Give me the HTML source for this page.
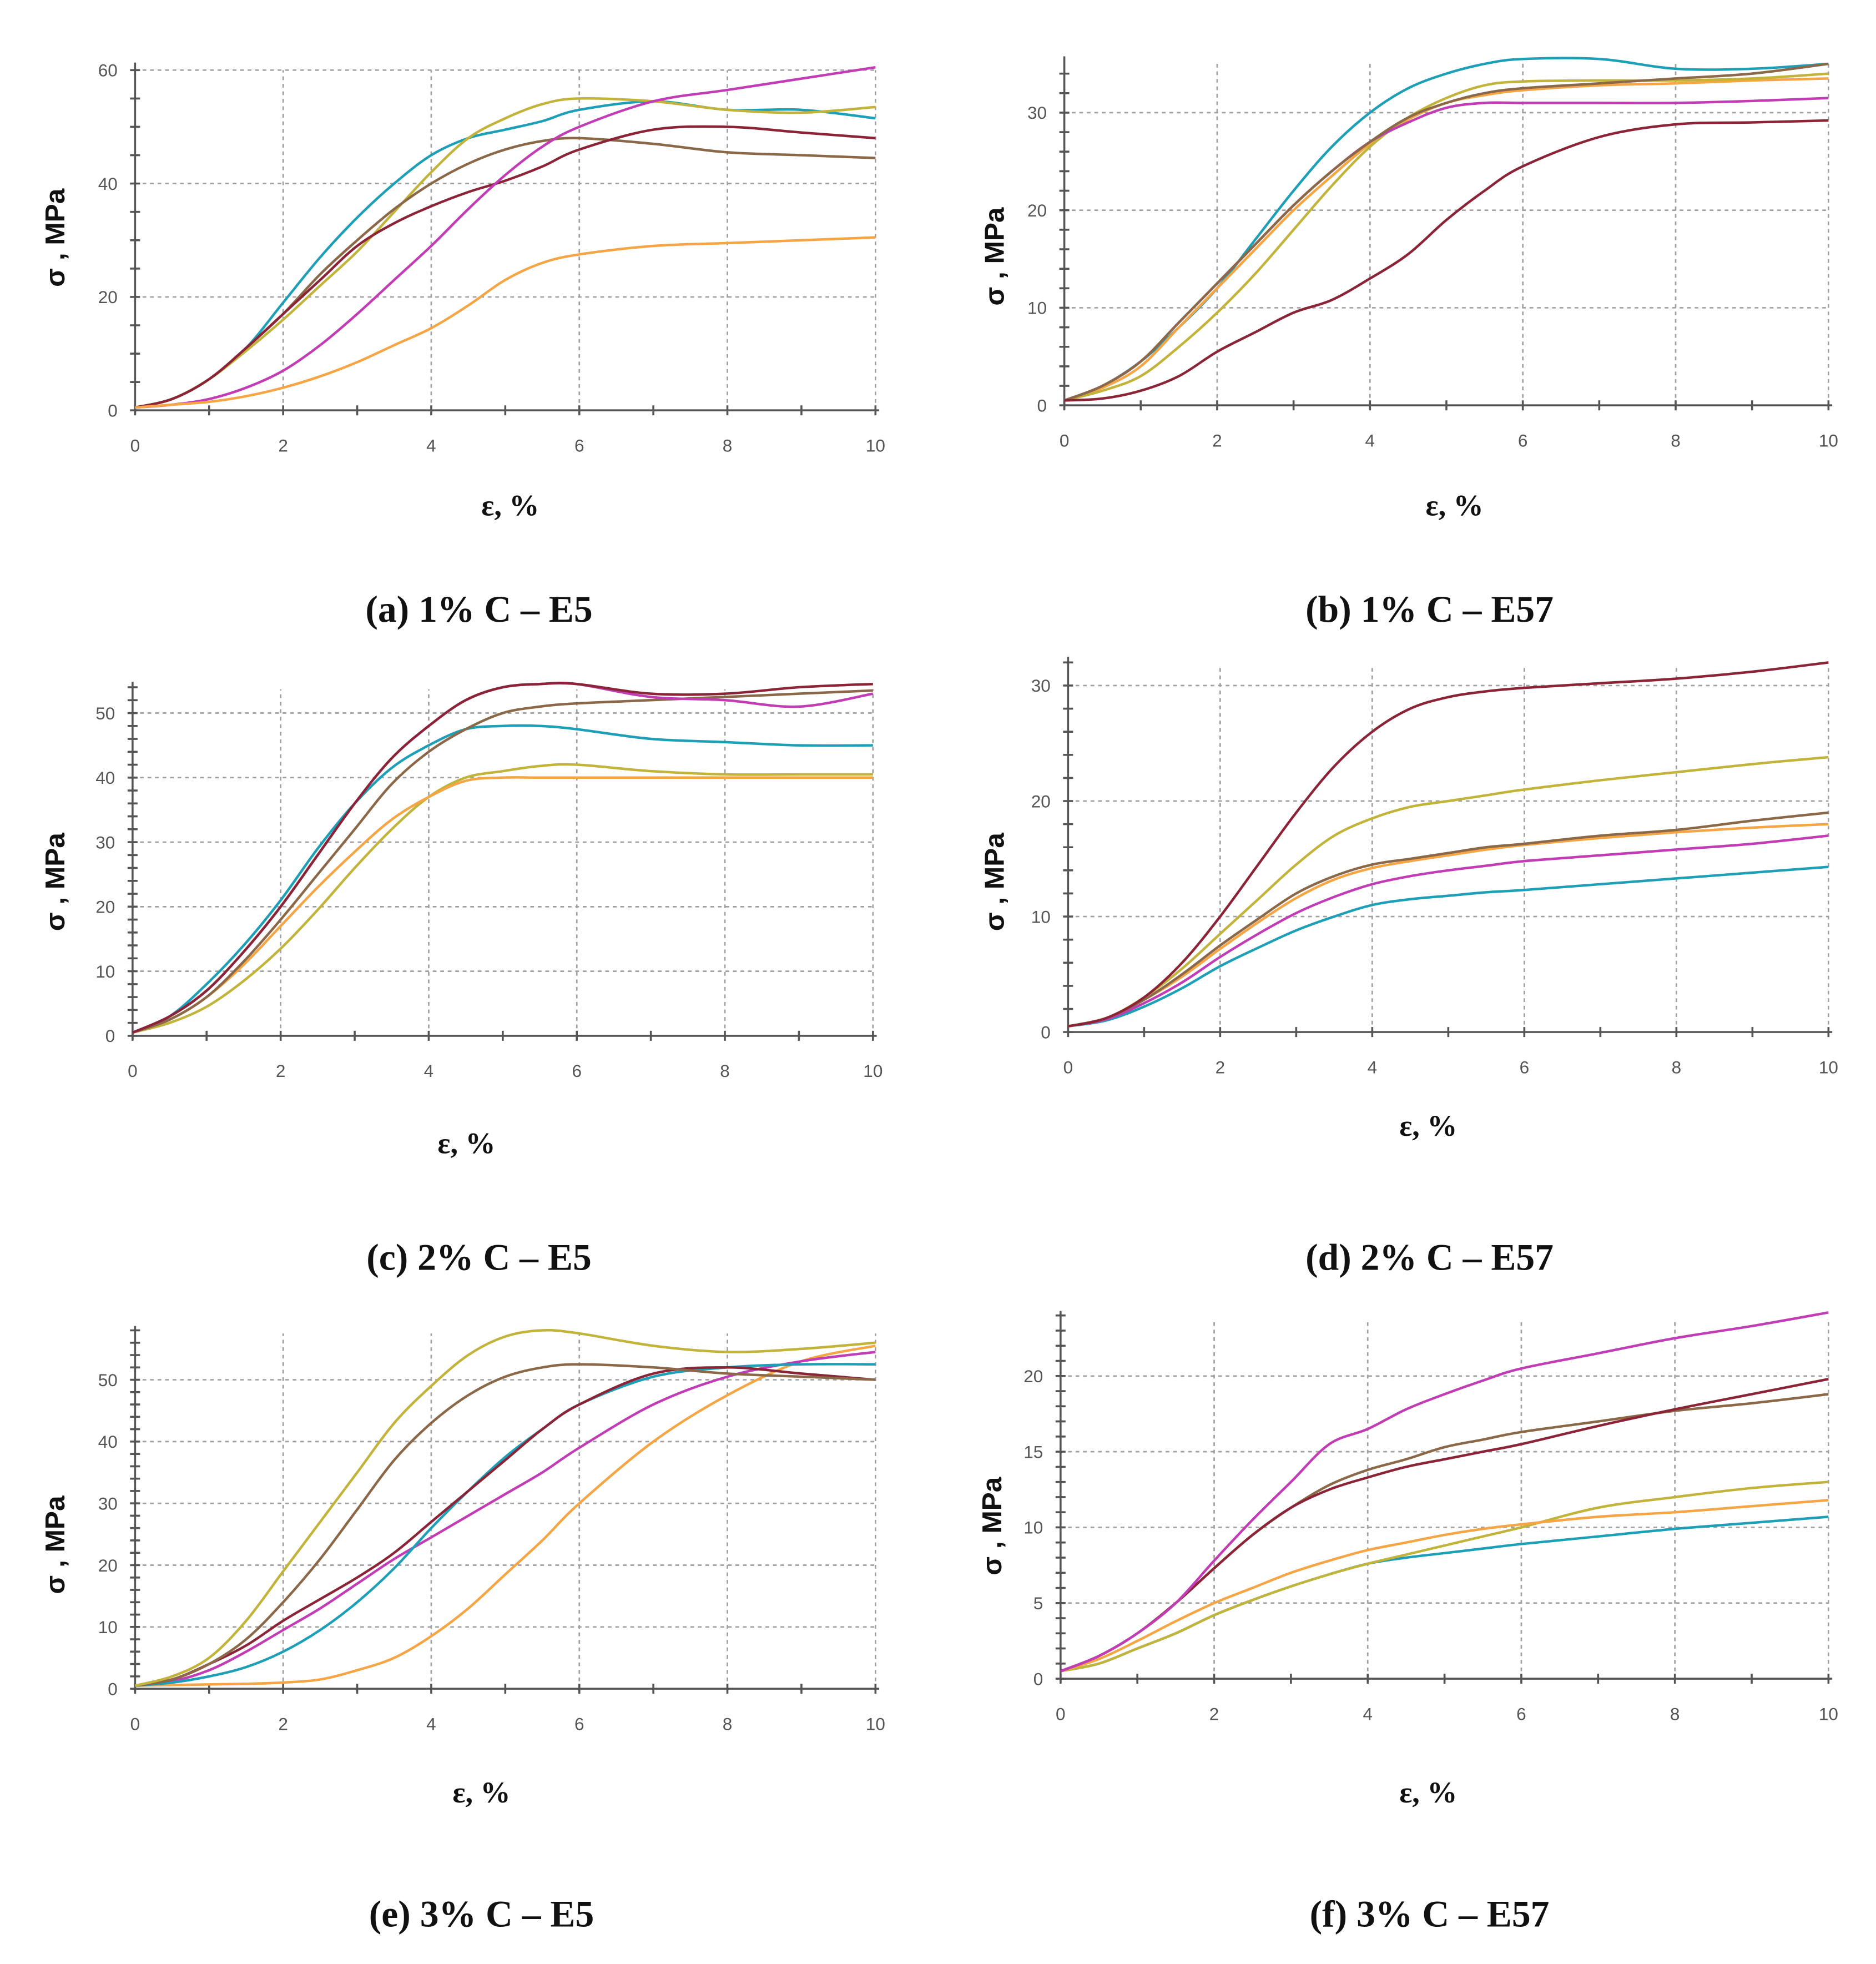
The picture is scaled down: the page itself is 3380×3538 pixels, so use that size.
<!DOCTYPE html>
<html><head><meta charset="utf-8"><style>
html,body{margin:0;padding:0;background:#fff}
svg{display:block}
</style></head><body>
<svg id="fig" xmlns="http://www.w3.org/2000/svg" width="3380" height="3538" viewBox="0 0 1500 1570"></svg>
<script>
const xs = [0,0.5,1,1.5,2,2.5,3,3.5,4,4.5,5,5.5,6,7,8,9,10];
const xTicks = [0,2,4,6,8,10];
const colors = {teal:"#1e9fb8", olive:"#c2b33a", brown:"#8a6848", maroon:"#8c2438", magenta:"#c23db5", orange:"#f6a545"};

// panel a
const aTitle = "(a) 1% C – E5";
const aYTicks = [0,20,40,60];
const aTeal    = [0.5,2,5.5,11,19,27,34,40,45,48,49.5,51,53,54.5,53,53,51.5];
const aOlive   = [0.5,2,5.5,10.5,16,22,28,35,42,48,51.5,54,55,54.5,53,52.5,53.5];
const aBrown   = [0.5,2,5.5,11,17,24,30,35.5,40,43.5,46,47.5,48,47,45.5,45,44.5];
const aMaroon  = [0.5,2,5.5,11,17,23,29,33,36,38.5,40.5,43,46,49.5,50,49,48];
const aMagenta = [0.5,1,2,4,7,11.5,17,23,29,35.5,41.5,46.5,50,54.5,56.5,58.5,60.5];
const aOrange  = [0.5,1,1.5,2.5,4,6,8.5,11.5,14.5,18.5,23,26,27.5,29,29.5,30,30.5];

// panel b
const bTitle = "(b) 1% C – E57";
const bYTicks = [0,10,20,30];
const bTeal    = [0.5,2,4.5,8,12,17,22,26.5,30,32.5,34,35,35.5,35.5,34.5,34.5,35];
const bMaroon  = [0.5,2,4.5,8.5,12.5,16.5,20.5,24,27,29.5,31,32,32.5,33,33.5,34,35];
const bOrange  = [0.5,1.8,4,8,12,16,20,23.5,26.8,29.3,31,31.8,32.3,32.8,33,33.3,33.5];
const bOlive   = [0.5,1.5,3,6,9.5,13.5,18,22.5,26.5,29.5,31.5,32.8,33.2,33.3,33.3,33.5,34];
const bMagenta = [0.5,2,4.5,8.5,12.5,16.5,20.5,24,27,29,30.5,31,31,31,31,31.2,31.5];
const bLow     = [0.5,0.7,1.5,3,5.5,7.5,9.5,10.8,13,15.5,19,22,24.5,27.5,28.8,29,29.2];

// panel c
const cTitle = "(c) 2% C – E5";
const cYTicks = [0,10,20,30,40,50];
const cMaroon  = [0.5,3,7,13,20,28,36,43,48,52,54,54.5,54.5,53,53,54,54.5];
const cMagenta = [0.5,3,7,13,20,28,36,43,48,52,54,54.5,54.5,52.5,52,51,53];
const cTeal    = [0.5,3,8,14,21,29,36,41.5,45,47.5,48,48,47.5,46,45.5,45,45];
const cBrown   = [0.5,2.5,6,11.5,18,25,32,39,44,47.5,50,51,51.5,52,52.5,53,53.5];
const cOlive   = [0.5,2,4.5,8.5,13.5,19.5,26,32,37,40,41,41.8,42,41,40.5,40.5,40.5];
const cOrange  = [0.5,2.5,6,11,17,23,28.5,33.5,37,39.5,40,40,40,40,40,40,40];

// panel d
const dTitle = "(d) 2% C – E57";
const dYTicks = [0,10,20,30];
const dMaroon  = [0.5,1.2,3,6,10,14.5,19,23,26,28,29,29.5,29.8,30.2,30.6,31.2,32];
const dOlive   = [0.5,1.2,3,5.5,8.5,11.5,14.5,17,18.5,19.5,20,20.5,21,21.8,22.5,23.2,23.8];
const dBrown   = [0.5,1.2,2.8,5,7.5,9.8,12,13.5,14.5,15,15.5,16,16.3,17,17.5,18.3,19];
const dOrange  = [0.5,1.2,2.8,4.8,7.2,9.5,11.6,13.2,14.2,14.8,15.3,15.8,16.2,16.8,17.3,17.7,18];
const dMagenta = [0.5,1.1,2.5,4.3,6.5,8.5,10.3,11.7,12.8,13.5,14,14.4,14.8,15.3,15.8,16.3,17];
const dTeal    = [0.5,1,2.2,3.8,5.7,7.3,8.8,10,11,11.5,11.8,12.1,12.3,12.8,13.3,13.8,14.3];

// panel e
const eTitle = "(e) 3% C – E5";
const eYTicks = [0,10,20,30,40,50];
const eOlive   = [0.5,2,5,11,19,27,35,43,49,54,57,58,57.5,55.5,54.5,55,56];
const eBrown   = [0.5,1.5,4,8,14,21,29,37,43,47.5,50.5,52,52.5,52,51,50.5,50];
const eMaroon  = [0.5,1.5,4,7,11,14.5,18,22,27,32,37,42,46,51,52,51,50];
const eTeal    = [0.5,1,2,3.5,6,9.5,14,19.5,26,32,37.5,42,46,50.5,52,52.5,52.5];
const eMagenta = [0.5,1.2,3,6,9.5,13,17,21,24.5,28,31.5,35,39,46,50.5,53,54.5];
const eOrange  = [0.5,0.6,0.7,0.8,1,1.5,3,5,8.5,13,18.5,24,30,40,47.5,53,55.5];

// panel f
const fTitle = "(f) 3% C – E57";
const fYTicks = [0,5,10,15,20];
const fMagenta = [0.5,1.5,3,5,7.8,10.5,13,15.5,16.5,17.8,18.8,19.7,20.5,21.5,22.5,23.3,24.2];
const fMaroon  = [0.5,1.5,3,5,7.3,9.5,11.3,12.5,13.3,14,14.5,15,15.5,16.7,17.8,18.8,19.8];
const fBrown   = [0.5,1.5,3,5,7.3,9.5,11.3,12.8,13.8,14.5,15.3,15.8,16.3,17,17.7,18.2,18.8];
const fOrange  = [0.5,1.3,2.5,3.8,5,6,7,7.8,8.5,9,9.5,9.9,10.2,10.7,11,11.4,11.8];
const fOlive   = [0.5,1,2,3,4.2,5.2,6.1,6.9,7.6,8.2,8.8,9.4,10,11.3,12,12.6,13];
const fTeal    = [0.5,1,2,3,4.2,5.2,6.1,6.9,7.6,8,8.3,8.6,8.9,9.4,9.9,10.3,10.7];

const panels = [
 {id:"a", title:aTitle, yTicks:aYTicks, x0:108,x1:700,y0:328,yTop:56,yMaxTick:60,axisTop:50,minor:5,
  tx:383,ty:497,ex:408,ey:412,sx:44,sy:190,
  series:[["teal",aTeal],["olive",aOlive],["brown",aBrown],["maroon",aMaroon],["magenta",aMagenta],["orange",aOrange]]},
 {id:"b", title:bTitle, yTicks:bYTicks, x0:851,x1:1462,y0:324,yTop:90,yMaxTick:30,axisTop:45,minor:2,
  tx:1143,ty:497,ex:1163,ey:412,sx:795,sy:205,
  series:[["teal",bTeal],["orange",bOrange],["olive",bOlive],["magenta",bMagenta],["brown",bMaroon],["maroon",bLow]]},
 {id:"c", title:cTitle, yTicks:cYTicks, x0:106,x1:698,y0:828,yTop:570,yMaxTick:50,axisTop:545,minor:2,
  tx:383,ty:1015,ex:373,ey:922,sx:44,sy:705,
  series:[["teal",cTeal],["olive",cOlive],["orange",cOrange],["brown",cBrown],["magenta",cMagenta],["maroon",cMaroon]]},
 {id:"d", title:dTitle, yTicks:dYTicks, x0:854,x1:1462,y0:825,yTop:548,yMaxTick:30,axisTop:525,minor:2,
  tx:1143,ty:1015,ex:1142,ey:908,sx:795,sy:705,
  series:[["teal",dTeal],["magenta",dMagenta],["orange",dOrange],["brown",dBrown],["olive",dOlive],["maroon",dMaroon]]},
 {id:"e", title:eTitle, yTicks:eYTicks, x0:108,x1:700,y0:1350,yTop:1103,yMaxTick:50,axisTop:1060,minor:2,
  tx:385,ty:1540,ex:385,ey:1441,sx:44,sy:1235,
  series:[["orange",eOrange],["magenta",eMagenta],["teal",eTeal],["maroon",eMaroon],["brown",eBrown],["olive",eOlive]]},
 {id:"f", title:fTitle, yTicks:fYTicks, x0:848,x1:1462,y0:1342,yTop:1100,yMaxTick:20,axisTop:1048,minor:1,
  tx:1143,ty:1540,ex:1142,ey:1441,sx:793,sy:1220,
  series:[["teal",fTeal],["olive",fOlive],["orange",fOrange],["brown",fBrown],["maroon",fMaroon],["magenta",fMagenta]]}
];

const NS = "http://www.w3.org/2000/svg";
const svg = document.getElementById("fig");
function mk(tag, attrs, parent){
  const e = document.createElementNS(NS, tag);
  for (const k in attrs) e.setAttribute(k, attrs[k]);
  parent.appendChild(e);
  return e;
}
function smoothPath(pts){
  let d = "M" + pts[0][0].toFixed(2) + "," + pts[0][1].toFixed(2);
  for (let i=0;i<pts.length-1;i++){
    const p0 = pts[Math.max(i-1,0)], p1 = pts[i], p2 = pts[i+1], p3 = pts[Math.min(i+2,pts.length-1)];
    const c1x = p1[0]+(p2[0]-p0[0])/6, c1y = p1[1]+(p2[1]-p0[1])/6;
    const c2x = p2[0]-(p3[0]-p1[0])/6, c2y = p2[1]-(p3[1]-p1[1])/6;
    d += " C"+c1x.toFixed(2)+","+c1y.toFixed(2)+" "+c2x.toFixed(2)+","+c2y.toFixed(2)+" "+p2[0].toFixed(2)+","+p2[1].toFixed(2);
  }
  return d;
}

panels.forEach(p => {
  const g = mk("g", {}, svg);
  
  
  const sx = v => p.x0 + (p.x1 - p.x0) * v / 10;
  const sy = v => p.y0 - (p.y0 - p.yTop) * v / p.yMaxTick;
  const yMaxVal = (p.y0 - p.axisTop) / (p.y0 - p.yTop) * p.yMaxTick;

  // grid
  const grid = mk("g", {stroke:"#a0a0a0","stroke-width":1.2,"stroke-dasharray":"3,3",fill:"none"}, g);
  
  
  xTicks.forEach(t => { if (t>0) mk("line",{x1:sx(t),x2:sx(t),y1:p.y0,y2:p.axisTop+6},grid); });
  p.yTicks.forEach(t => { if (t>0) mk("line",{x1:p.x0,x2:p.x1,y1:sy(t),y2:sy(t)},grid); });

  // axes
  const ax = mk("g", {stroke:"#555","stroke-width":1.6,fill:"none"}, g);
  
  
  mk("line",{x1:p.x0,x2:p.x1+3,y1:p.y0,y2:p.y0},ax);
  mk("line",{x1:p.x0,x2:p.x0,y1:p.y0+3,y2:p.axisTop},ax);
  for (let t=0;t<=10;t++) mk("line",{x1:sx(t),x2:sx(t),y1:p.y0-4,y2:p.y0+4},ax);
  for (let v=0; v<=yMaxVal+0.001; v+=p.minor) mk("line",{x1:p.x0-4,x2:p.x0+4,y1:sy(v),y2:sy(v)},ax);

  // tick labels
  xTicks.forEach(t => {
    const tl = mk("text",{x:sx(t),y:p.y0+33,"text-anchor":"middle","font-family":"Liberation Sans, sans-serif","font-size":14,fill:"#555"},g);
    tl.textContent = t;
    
    
  });
  p.yTicks.forEach(t => {
    const tl = mk("text",{x:p.x0-14,y:sy(t)+5,"text-anchor":"end","font-family":"Liberation Sans, sans-serif","font-size":14,fill:"#555"},g);
    tl.textContent = t;
    
    
  });

  // series
  p.series.forEach(([c, vals]) => {
    const pts = xs.map((x,i) => [sx(x), sy(vals[i])]);
    const path = mk("path",{d:smoothPath(pts),stroke:colors[c],"stroke-width":2,fill:"none","stroke-linejoin":"round"},g);
    
    
  });

  // axis labels
  const yl = mk("text",{x:p.sx,y:p.sy,transform:"rotate(-90 "+p.sx+" "+p.sy+")","text-anchor":"middle","dominant-baseline":"central","font-family":"Liberation Sans, sans-serif","font-size":22,"font-weight":"bold",fill:"#111"},g);
  yl.textContent = "σ , MPa";
  
  
  const xl = mk("text",{x:p.ex,y:p.ey,"text-anchor":"middle","font-family":"Liberation Serif, serif","font-size":24,"font-weight":"bold",fill:"#111"},g);
  xl.textContent = "ε, %";
  
  
  const tt = mk("text",{x:p.tx,y:p.ty,"text-anchor":"middle","font-family":"Liberation Serif, serif","font-size":30,"font-weight":"bold",fill:"#111"},g);
  tt.textContent = p.title;
  
  
});
</script>
</body></html>
